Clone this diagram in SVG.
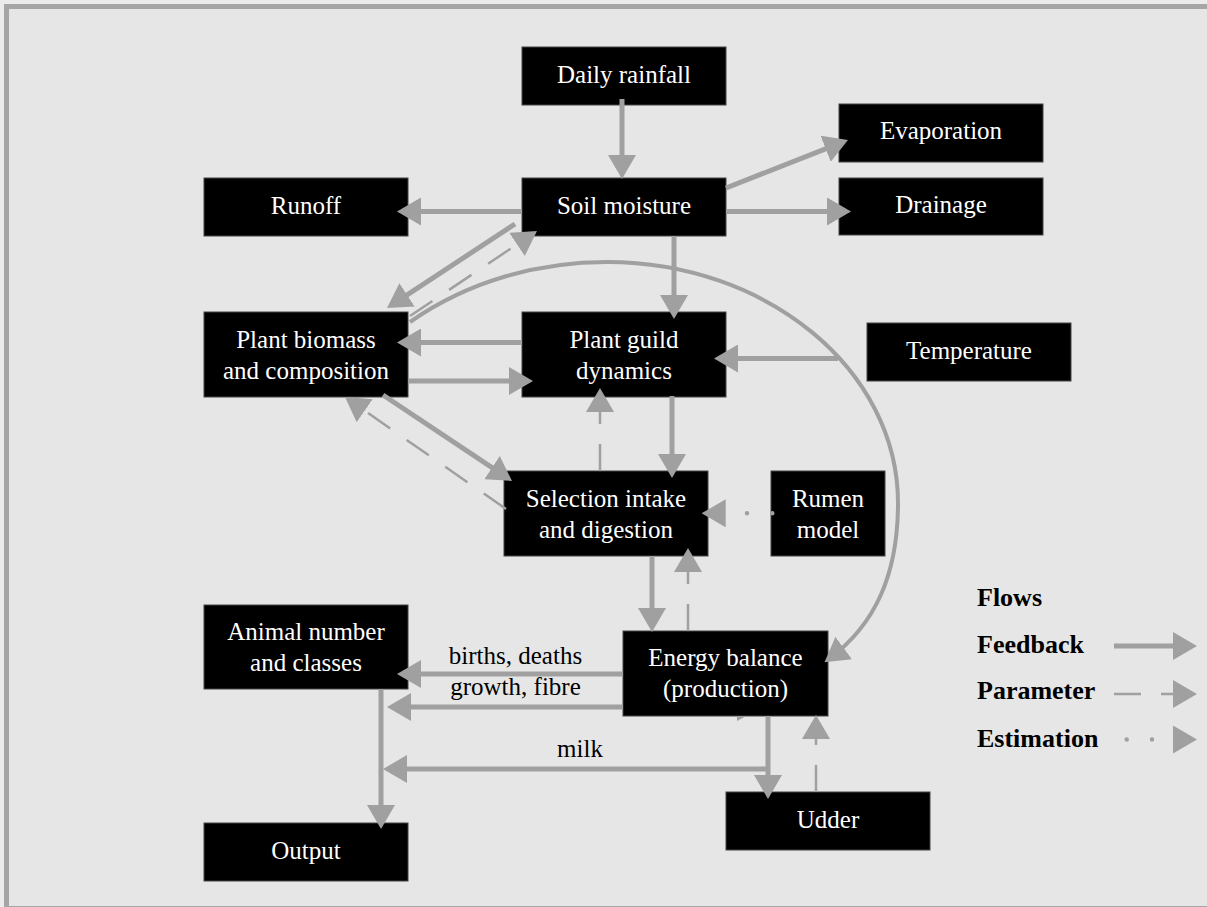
<svg xmlns="http://www.w3.org/2000/svg" width="1207" height="907" viewBox="0 0 1207 907">
<style>
.box{fill:#000;stroke:#444;stroke-width:1}
.nt{fill:#fff;font-family:"Liberation Serif","Times New Roman",serif;font-size:25px;text-anchor:middle}
.lb{fill:#000;font-family:"Liberation Serif","Times New Roman",serif;font-size:25px;text-anchor:middle}
.lg{fill:#000;font-family:"Liberation Serif","Times New Roman",serif;font-size:26px;font-weight:bold}
.fb{fill:none;stroke:#a0a0a0;stroke-width:5;marker-end:url(#ah)}
.pm{fill:none;stroke:#a0a0a0;stroke-width:2.5;stroke-dasharray:27 20;marker-end:url(#ah)}
.es{fill:none;stroke:#a0a0a0;stroke-width:4.5;stroke-linecap:round;stroke-dasharray:0 25.3;marker-end:url(#ah)}
.arc{fill:none;stroke:#a0a0a0;stroke-width:4;marker-end:url(#ah)}
</style>
<defs>
<marker id="ah" markerUnits="userSpaceOnUse" markerWidth="24" markerHeight="28" viewBox="0 0 24 28" refX="19" refY="14" orient="auto">
<path d="M0,0L24,14L0,28z" fill="#a0a0a0"/>
</marker>
</defs>
<rect x="0" y="0" width="1207" height="907" fill="#ececec"/>
<rect x="6.5" y="6.5" width="1210" height="902" fill="#e6e6e6" stroke="#a6a6a6" stroke-width="5"/>

<g id="n-rainfall"><rect class="box" x="522" y="47" width="204" height="58"/><text class="nt" x="624" y="83">Daily rainfall</text></g>
<g id="n-soil"><rect class="box" x="522" y="178" width="204" height="58"/><text class="nt" x="624" y="214">Soil moisture</text></g>
<g id="n-runoff"><rect class="box" x="204" y="178" width="204" height="58"/><text class="nt" x="306" y="214">Runoff</text></g>
<g id="n-evap"><rect class="box" x="839" y="104" width="204" height="58"/><text class="nt" x="941" y="139">Evaporation</text></g>
<g id="n-drainage"><rect class="box" x="839" y="178" width="204" height="57"/><text class="nt" x="941" y="213">Drainage</text></g>
<g id="n-biomass"><rect class="box" x="204" y="312" width="204" height="85"/><text class="nt" x="306" y="348">Plant biomass</text><text class="nt" x="306" y="379">and composition</text></g>
<g id="n-guild"><rect class="box" x="522" y="312" width="204" height="85"/><text class="nt" x="624" y="348">Plant guild</text><text class="nt" x="624" y="379">dynamics</text></g>
<g id="n-temp"><rect class="box" x="867" y="323" width="204" height="58"/><text class="nt" x="969" y="359">Temperature</text></g>
<g id="n-selection"><rect class="box" x="504" y="471" width="204" height="85"/><text class="nt" x="606" y="507">Selection intake</text><text class="nt" x="606" y="537.5">and digestion</text></g>
<g id="n-rumen"><rect class="box" x="771" y="471" width="114" height="85"/><text class="nt" x="828" y="507">Rumen</text><text class="nt" x="828" y="538">model</text></g>
<g id="n-animal"><rect class="box" x="204" y="605" width="204" height="84"/><text class="nt" x="306" y="640">Animal number</text><text class="nt" x="306" y="671">and classes</text></g>
<g id="n-energy"><rect class="box" x="623" y="631" width="205" height="85"/><text class="nt" x="725.5" y="666">Energy balance</text><text class="nt" x="725.5" y="697">(production)</text></g>
<g id="n-output"><rect class="box" x="204" y="823" width="204" height="58"/><text class="nt" x="306" y="859">Output</text></g>
<g id="n-udder"><rect class="box" x="726" y="792" width="204" height="58"/><text class="nt" x="828" y="828">Udder</text></g>

<g id="connectors">
<path class="fb" d="M622,99L622,174"/>
<path class="fb" d="M522,211.5L402,211.5"/>
<path class="fb" d="M726,188L843.3,141.8"/>
<path class="fb" d="M726,211.5L846,211.5"/>
<path class="fb" d="M674,236L674,314"/>
<path class="fb" d="M515,224L391.2,305.3"/>
<path class="pm" d="M410,316L532.8,233.8"/>
<path class="arc" d="M410,322C470,280 540,262 607,262C767,262 898,370 898,503C898,575 875,625 828.5,659.4"/>
<path class="fb" d="M522,342.5L402,342.5"/>
<path class="fb" d="M408,381L528,381"/>
<path class="fb" d="M383,395L507.8,478.2"/>
<path class="pm" d="M506,509L349.1,399.9"/>
<path class="pm" d="M600,471L600,393"/>
<path class="fb" d="M672,396L672,473"/>
<path class="fb" d="M838,358.5L719,358.5"/>
<path class="es" d="M772.3,513.3L706.7,513.3"/>
<path class="fb" d="M652,556L652,627"/>
<path class="pm" d="M688,631L688,553"/>
<path class="fb" d="M623,674L402,674"/>
<path class="fb" d="M623,707L392,707"/>
<polygon points="737,716.5 745.5,716.5 737,721" fill="#a0a0a0"/>
<path class="fb" d="M381,689L381,824"/>
<path class="fb" d="M768,716L768,794"/>
<path class="fb" d="M768,769L388,769"/>
<path class="pm" d="M816,792L816,720"/>
</g>

<g id="labels">
<text class="lb" x="515.5" y="664">births, deaths</text>
<text class="lb" x="515.5" y="695">growth, fibre</text>
<text class="lb" x="580" y="757">milk</text>
</g>

<g id="legend">
<text class="lg" x="977" y="606">Flows</text>
<text class="lg" x="977" y="653">Feedback</text>
<text class="lg" x="977" y="699">Parameter</text>
<text class="lg" x="977" y="747">Estimation</text>
<path class="fb" d="M1114,646L1192,646"/>
<path class="pm" d="M1114,694L1192,694"/>
<path class="es" d="M1126.7,739.5L1192,739.5"/>
</g>
</svg>
